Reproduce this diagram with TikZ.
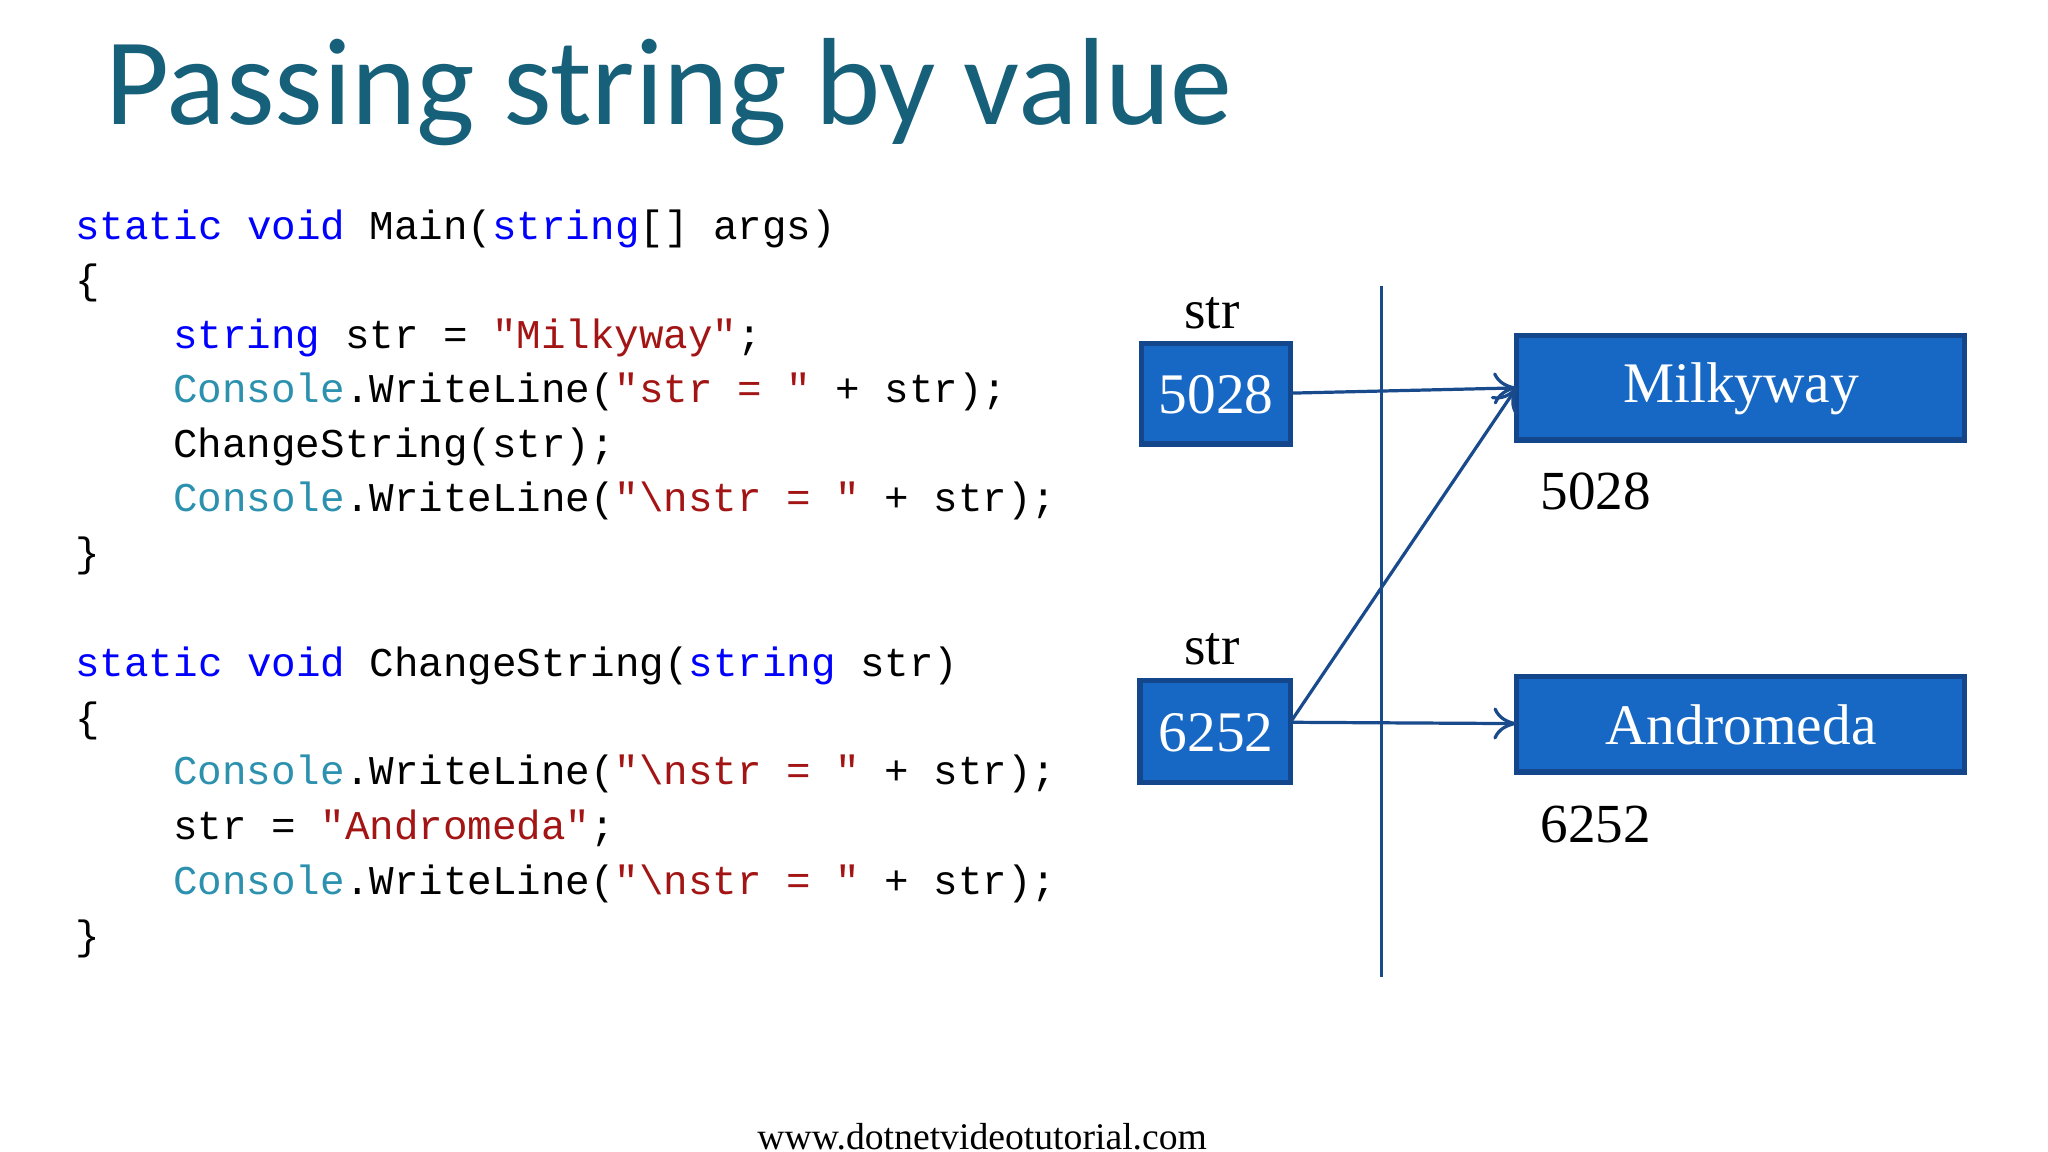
\documentclass[tikz,border=0pt]{standalone}
\usepackage{fontspec}
\usetikzlibrary{arrows.meta}
\setmainfont{Liberation Serif}
\newfontfamily\titlefont{Carlito}
\newfontfamily\codefont{Liberation Mono}
\definecolor{ttl}{RGB}{23,96,122}
\definecolor{kw}{RGB}{0,0,255}
\definecolor{cls}{RGB}{43,145,175}
\definecolor{strc}{RGB}{163,21,21}
\definecolor{boxf}{RGB}{22,104,196}
\definecolor{boxd}{RGB}{20,70,140}
\definecolor{ln}{RGB}{25,75,140}
\begin{document}
\begin{tikzpicture}[x=0.01cm,y=-0.01cm,
  code/.style={anchor=base west,inner sep=0,font=\codefont\fontsize{8.9}{10}\selectfont},
  mem/.style={draw=boxd,line width=1.2pt,fill=boxf},
  memtxt/.style={text=white,font=\fontsize{12.5}{14}\selectfont,inner sep=0},
  lbl/.style={font=\fontsize{12}{14}\selectfont,inner sep=0},
  conn/.style={ln,line width=0.7pt,-{To[length=5pt,width=7pt]}}]
\useasboundingbox[fill=white] (0,0) rectangle (1568,882);
\node[anchor=base west,inner sep=0,text=ttl,font=\titlefont\fontsize{27}{30}\selectfont] (title) at (80,95) {Passing string by value};
\node[code] (c1) at (57,183) {\textcolor{kw}{static void} Main(\textcolor{kw}{string}[] args)};
\node[code] (c2) at (57,225) {\{};
\node[code] (c3) at (132,267) {\textcolor{kw}{string} str = \textcolor{strc}{"Milkyway"};};
\node[code] (c4) at (132,308) {\textcolor{cls}{Console}.WriteLine(\textcolor{strc}{"str = "} + str);};
\node[code] (c5) at (132,350) {ChangeString(str);};
\node[code] (c6) at (132,392) {\textcolor{cls}{Console}.WriteLine(\textcolor{strc}{"\textbackslash nstr = "} + str);};
\node[code] (c7) at (57,434) {\}};
\node[code] (d1) at (57,518) {\textcolor{kw}{static void} ChangeString(\textcolor{kw}{string} str)};
\node[code] (d2) at (57,560) {\{};
\node[code] (d3) at (132,601) {\textcolor{cls}{Console}.WriteLine(\textcolor{strc}{"\textbackslash nstr = "} + str);};
\node[code] (d4) at (132,643) {str = \textcolor{strc}{"Andromeda"};};
\node[code] (d5) at (132,685) {\textcolor{cls}{Console}.WriteLine(\textcolor{strc}{"\textbackslash nstr = "} + str);};
\node[code] (d6) at (57,727) {\}};
\coordinate (vt) at (1058,219); \coordinate (vb) at (1058,748);
\draw[ln,line width=0.7pt] (vt) -- (vb);
\node[lbl] (s1) at (928,240) {str};
\node[lbl] (s2) at (928,497) {str};
\path[mem] (874,263) rectangle (988,340);
\node[memtxt] (n1) at (931,302) {5028};
\path[mem] (873,521) rectangle (988,599);
\node[memtxt] (n2) at (931,561) {6252};
\path[mem] (1161,257) rectangle (1504,337);
\node[memtxt] (m1) at (1333,298) {Milkyway};
\path[mem] (1161,518) rectangle (1504,591);
\node[memtxt] (m2) at (1333,555) {Andromeda};
\coordinate (b1e) at (988,301); \coordinate (b2e) at (988,553);
\coordinate (m1w) at (1161,297); \coordinate (m2w) at (1161,554);
\draw[conn] (b1e) -- (m1w);
\draw[conn] (b2e) -- (m1w);
\draw[conn] (b2e) -- (m2w);
\node[lbl,anchor=west] (a1) at (1179,376) {5028};
\node[lbl,anchor=west] (a2) at (1179,631) {6252};
\node[inner sep=0,font=\fontsize{8.2}{10}\selectfont] (foot) at (752,870) {www.dotnetvideotutorial.com};
\end{tikzpicture}
\end{document}
